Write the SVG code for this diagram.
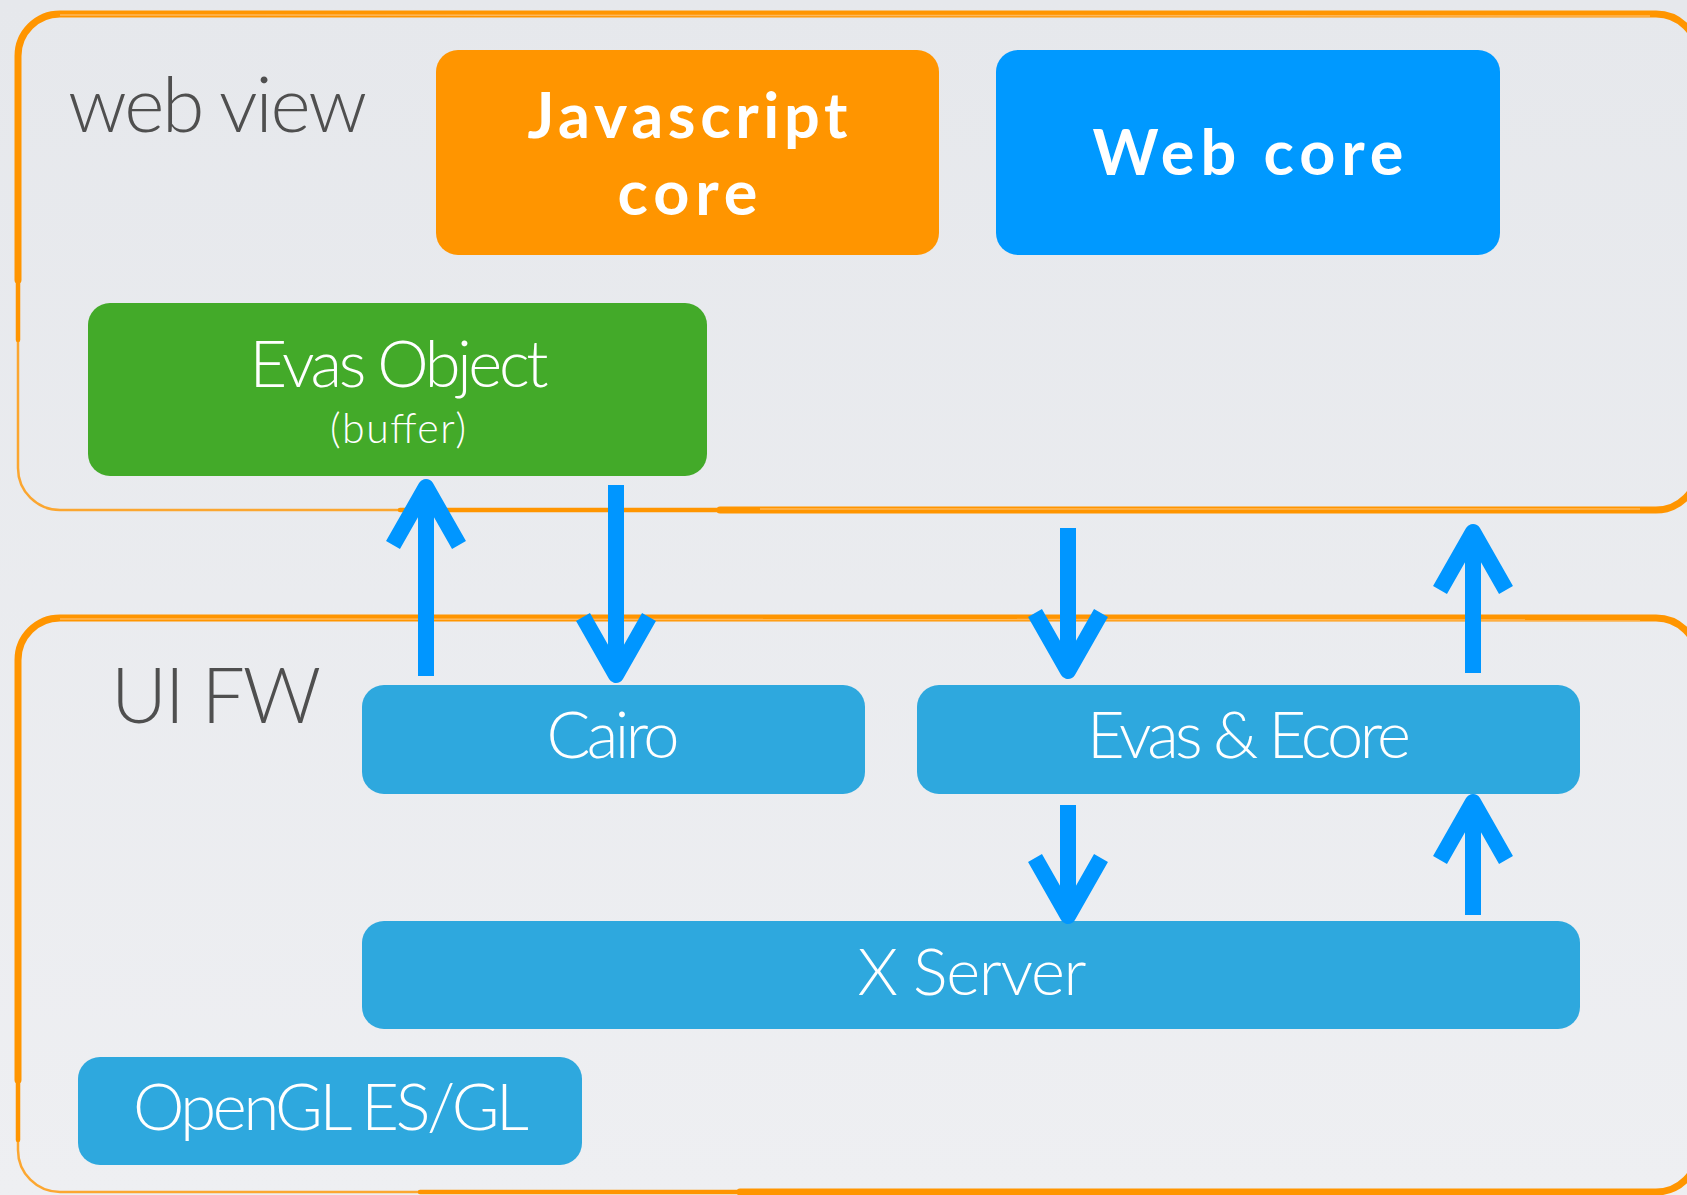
<svg xmlns="http://www.w3.org/2000/svg" width="1687" height="1195" viewBox="0 0 1687 1195">
<defs>
<linearGradient id="bg" x1="0" y1="0" x2="0" y2="1">
<stop offset="0" stop-color="#e6e8ec"/>
<stop offset="1" stop-color="#eeeff2"/>
</linearGradient>
<style>
.frame-thin{fill:none;stroke:#ff9500;stroke-width:2.5;opacity:0.8}
.frame-mid{fill:none;stroke:#ff9500;stroke-width:4.5;stroke-linecap:round}
.frame{fill:none;stroke:#ff9500;stroke-width:7;stroke-linecap:round;stroke-linejoin:round}
.frame-sk{fill:none;stroke:#ffc070;stroke-width:1.5;opacity:0.8}
.lbl{font-family:Lato,"Open Sans","Liberation Sans",sans-serif;font-weight:300;fill:#4f4f4f}
.w{font-family:Lato,"Open Sans","Liberation Sans",sans-serif;font-weight:300;fill:#ffffff;text-anchor:middle}
.wb{font-family:Lato,"Open Sans","Liberation Sans",sans-serif;font-weight:700;fill:#ffffff;text-anchor:middle}
.blue{fill:#2ea8de}
.arrow{fill:none;stroke:#0096ff;stroke-width:16;stroke-linecap:butt;stroke-linejoin:round}
</style>
</defs>
<rect width="1687" height="1195" fill="url(#bg)"/>

<g id="web-view-frame">
<rect class="frame-thin" x="18" y="14" width="1680" height="496" rx="42"/>
<path class="frame-mid" d="M18,340 L18,270 M400,510 L760,510"/>
<path class="frame" d="M18,280 L18,56 A42,42 0 0 1 60,14 L1656,14 A42,42 0 0 1 1698,56 L1698,468 A42,42 0 0 1 1656,510 L720,510"/>
<path class="frame-sk" d="M60,15 L1650,16 M1640,509 L760,509"/>
<text class="lbl" x="68" y="132" font-size="77" textLength="299">web view</text>
</g>

<g id="ui-fw-frame">
<rect class="frame-thin" x="18" y="618" width="1680" height="574" rx="42"/>
<path class="frame-mid" d="M18,1060 L18,1140 M420,1192 L760,1192"/>
<path class="frame" d="M18,1080 L18,660 A42,42 0 0 1 60,618 L1656,618 A42,42 0 0 1 1698,660 L1698,1150 A42,42 0 0 1 1656,1192 L740,1192"/>
<path class="frame-sk" d="M60,619 L1640,620"/>
<text class="lbl" x="111" y="723" font-size="77" textLength="210">UI FW</text>
</g>

<g id="javascript-core">
<rect x="436" y="50" width="503" height="205" rx="22" fill="#ff9500"/>
<text class="wb" x="687.5" y="138" font-size="63" textLength="320">Javascript</text>
<text class="wb" x="687.5" y="215" font-size="63" textLength="140">core</text>
</g>

<g id="web-core">
<rect x="996" y="50" width="504" height="205" rx="22" fill="#0099ff"/>
<text class="wb" x="1248" y="175" font-size="63" textLength="311">Web core</text>
</g>

<g id="evas-object">
<rect x="88" y="303" width="619" height="173" rx="22" fill="#43aa29"/>
<text class="w" x="399" y="387" font-size="65" textLength="299">Evas Object</text>
<text class="w" x="398" y="443" font-size="41" textLength="136">(buffer)</text>
</g>

<g id="cairo">
<rect class="blue" x="362" y="685" width="503" height="109" rx="22"/>
<text class="w" x="613" y="758" font-size="65" textLength="133">Cairo</text>
</g>

<g id="evas-ecore">
<rect class="blue" x="917" y="685" width="663" height="109" rx="22"/>
<text class="w" x="1249" y="758" font-size="65" textLength="324">Evas &amp; Ecore</text>
</g>

<g id="x-server">
<rect class="blue" x="362" y="921" width="1218" height="108" rx="22"/>
<text class="w" x="972" y="995" font-size="65" textLength="229">X Server</text>
</g>

<g id="opengl">
<rect class="blue" x="78" y="1057" width="504" height="108" rx="22"/>
<text class="w" x="331" y="1130" font-size="65" textLength="396">OpenGL ES/GL</text>
</g>

<g id="connectors">
<path class="arrow" d="M426,676 L426,494 M393,545 L426,487 L459,545"/>
<path class="arrow" d="M616,485 L616,668 M583,617 L616,675 L649,617"/>
<path class="arrow" d="M1068,528 L1068,664 M1035,613 L1068,671 L1101,613"/>
<path class="arrow" d="M1473,673 L1473,540 M1440,590 L1473,532 L1506,590"/>
<path class="arrow" d="M1068,805 L1068,909 M1035,858 L1068,916 L1101,858"/>
<path class="arrow" d="M1473,915 L1473,810 M1440,860 L1473,802 L1506,860"/>
</g>
</svg>
